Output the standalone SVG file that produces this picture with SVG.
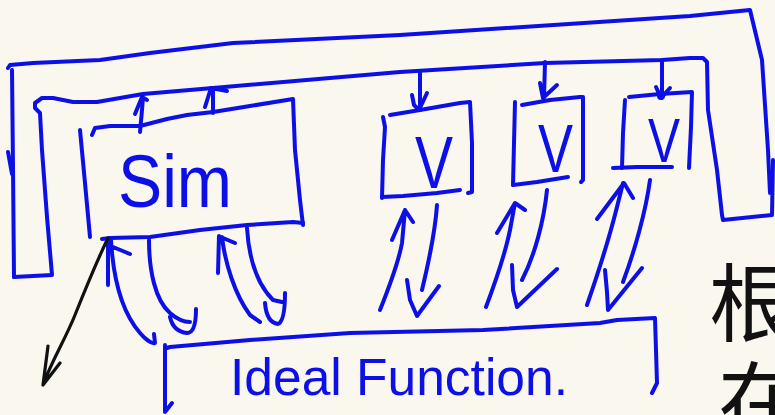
<svg xmlns="http://www.w3.org/2000/svg" width="775" height="415" viewBox="0 0 775 415">
<style>
.s{fill:none;stroke:#0c10e6;stroke-width:4;stroke-linecap:round;stroke-linejoin:round}
.k{fill:none;stroke:#111;stroke-width:3.2;stroke-linecap:round;stroke-linejoin:round}
.t{fill:#0c10e6;font-family:"Liberation Sans",Arial,sans-serif}
.c{fill:#111;font-family:"Noto Sans CJK SC","Noto Sans CJK JP",sans-serif;font-size:85px}
</style>
<rect width="775" height="415" fill="#f9f7ee"/>
<g id="sim">
<path class="s" d="M80,130 L85,183 L90,237"/>
<path class="s" d="M92,135 L95,128 L110,126 L140,126 L167,119 L187,115 L213,112 L250,106 L293,99 L295,150 L300,200 L303,225"/>
<path class="s" d="M303,223 L293,222 L247,225 L200,230 L150,237 L110,238 L102,239"/>
<text class="t" x="118" y="207" font-size="75" textLength="114" lengthAdjust="spacingAndGlyphs">Sim</text>
</g>
<g id="v1">
<path class="s" d="M383,117 L385,127 L383,160 L382,198"/>
<path class="s" d="M390,115 L420,110 L460,103 L470,102 L472,143 L472,192 L468,193"/>
<path class="s" d="M382,197 L403,196 L437,193 L460,190"/>
<text class="t" x="415" y="188" font-size="75" textLength="38" lengthAdjust="spacingAndGlyphs">V</text>
</g>
<g id="v2">
<path class="s" d="M515,102 L514,143 L513,185"/>
<path class="s" d="M522,105 L550,100 L580,97 L583,97 L583,143 L583,180 L581,182"/>
<path class="s" d="M513,185 L537,182 L568,177"/>
<text class="t" x="538" y="172" font-size="69" textLength="35" lengthAdjust="spacingAndGlyphs">V</text>
</g>
<g id="v3">
<path class="s" d="M625,100 L623,133 L622,168"/>
<path class="s" d="M629,97 L660,94 L692,92 L691,127 L689,168"/>
<path class="s" d="M613,168 L637,167 L672,167"/>
<text class="t" x="648" y="162" font-size="63" textLength="32" lengthAdjust="spacingAndGlyphs">V</text>
</g>
<g id="ideal">
<path class="s" d="M165,345 L165,412 L172,403"/>
<path class="s" d="M167,348 L170,347 L250,340 L350,333 L483,330 L600,323 L617,320 L655,318 L657,383 L652,393"/>
<text class="t" x="230" y="395" font-size="52" textLength="338" lengthAdjust="spacingAndGlyphs">Ideal Function.</text>
</g>
<g id="notes">
<text class="c" x="709" y="335">根</text>
<text class="c" x="718" y="433">在</text>
</g>
<g id="connectors">
<path class="s" d="M14,277 L52,275 L47,217 L42,150 L40,113 L35,108 L35,103 L42,98 L53,98 L73,102 L97,102 L143,94 L213,88 L400,72 L545,63 L662,60 L690,58 L703,58 L707,62 L708,110 L717,170 L722,215 L723,220 L772,215 L773,160"/>
<path class="s" d="M770,193 L768,150 L762,60 L750,10 L690,16 L400,35 L233,43 L150,53 L100,60 L33,63 L10,65 L8,68"/>
<path class="s" d="M12,70 L13,167 L14,277 M8,152 L12,174"/>
<path class="s" d="M140,132 L142,110 L143,97 M135,114 L142,97 L147,100"/>
<path class="s" d="M213,113 L213,88 M205,107 L211,88 L227,91"/>
<path class="s" d="M420,73 L420,110 M412,95 L414,105 L419,110 L427,93"/>
<path class="s" d="M545,62 L544,98 M540,83 L543,98 L557,85"/>
<path class="s" d="M662,60 L662,97 M656,87 L661,98 L670,88"/>
<circle cx="661" cy="96" r="4" fill="#0c10e6"/>
<path class="s" d="M111,240 C113,275 120,310 140,333 C146,340 152,344 155,343 L154,334 M108,285 L108,240 M113,247 L130,254"/>
<path class="s" d="M149,240 C149,270 155,300 170,313 C178,320 185,322 190,322 M170,317 C172,326 178,332 187,333 C193,333 196,325 196,309"/>
<path class="s" d="M222,237 C225,263 235,295 250,315 L260,322 M218,273 L219,236 M223,238 L235,243"/>
<path class="s" d="M247,228 C249,260 258,285 273,300 L282,302 M265,303 C266,315 270,323 278,324 C283,322 285,310 285,293"/>
<path class="s" d="M380,310 C388,290 398,265 402,243 L405,210 M392,240 L405,210 L413,222"/>
<path class="s" d="M437,205 C435,235 428,265 422,290 M407,280 L410,300 L417,316 L439,286"/>
<path class="s" d="M486,307 C495,283 505,255 510,230 L515,203 M497,233 L515,203 L525,210"/>
<path class="s" d="M547,190 C544,220 535,255 522,280 M512,265 L513,290 L517,307 L557,269"/>
<path class="s" d="M587,305 C595,282 610,235 617,207 L623,183 M597,219 L624,183 L633,198"/>
<path class="s" d="M650,180 C646,210 635,250 623,282 M605,270 L607,292 L608,310 L642,268"/>
<path class="k" d="M108,238 C95,265 85,290 75,315 C65,340 52,360 43,385 M48,346 L43,385 L60,363"/>
</g>
</svg>
